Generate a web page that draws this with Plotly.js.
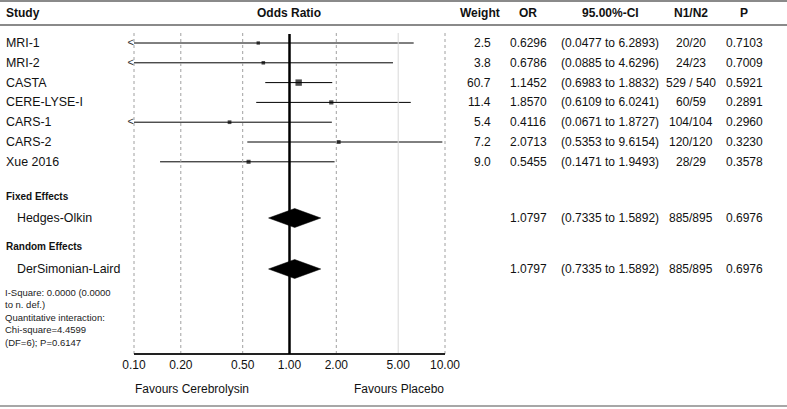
<!DOCTYPE html>
<html>
<head>
<meta charset="utf-8">
<script src="https://cdn.plot.ly/plotly-3.0.1.min.js"></script>
<style>html,body{margin:0;padding:0;background:#fff;}#chart{width:787px;height:409px;}</style>
</head>
<body>
<div id="chart"></div>
<script>
// ---- data ----
const studies = ['MRI-1','MRI-2','CASTA','CERE-LYSE-I','CARS-1','CARS-2','Xue 2016'];
const weights = [2.5,3.8,60.7,11.4,5.4,7.2,9.0];
const orVals  = [0.6296,0.6786,1.1452,1.8570,0.4116,2.0713,0.5455];
const ciLow   = [0.0477,0.0885,0.6983,0.6109,0.0671,0.5353,0.1471];
const ciHigh  = [6.2893,4.6296,1.8832,6.0241,1.8727,9.6154,1.9493];
const n1n2    = ['20/20','24/23','529 / 540','60/59','104/104','120/120','28/29'];
const pVals   = ['0.7103','0.7009','0.5921','0.2891','0.2960','0.3230','0.3578'];

const pooledGroups = ['Fixed Effects','Random Effects'];
const pooledNames  = ['Hedges-Olkin','DerSimonian-Laird'];
const pooledOR     = [1.0797,1.0797];
const pooledLow    = [0.7335,0.7335];
const pooledHigh   = [1.5892,1.5892];
const pooledN      = ['885/895','885/895'];
const pooledP      = ['0.6976','0.6976'];

const tickVals = [0.1,0.2,0.5,1,2,5,10];
const tickText = ['0.10','0.20','0.50','1.00','2.00','5.00','10.00'];
const headers  = ['Study','Odds Ratio','Weight','OR','95.00%-CI','N1/N2','P'];
const statsLines = ['I-Square: 0.0000 (0.0000','to n. def.)','Quantitative interaction:','Chi-square=4.4599','(DF=6); P=0.6147'];
const favours = ['Favours Cerebrolysin','Favours Placebo'];

// ---- layout helpers ----
const W = 787, H = 409;
const FONT = '"Liberation Sans", Arial, sans-serif';
const TXT = '#111';
const rowY = i => 43 + i * 19.8;
const groupY = [196, 247];
const pooledY = [218, 269];
const axisY = 354, gridTop = 33;
const xMin = 0.1, xMax = 10;
const px = v => v / W;
const py = v => 1 - v / H;

const col = {weight: 493, or: 528, ci: 610, n: 691, p: 744};

const traces = [];
const annotations = [];
const shapes = [];

function ann(text, x, y, opts) {
  annotations.push(Object.assign({
    text: text, xref: 'paper', yref: 'paper', x: px(x), y: py(y),
    showarrow: false, xanchor: 'center', yanchor: 'middle',
    font: {family: FONT, size: 12, color: TXT}
  }, opts || {}));
}
const labelFont = {family: FONT, size: 12.4, color: TXT};

// header
ann('<b>' + headers[0] + '</b>', 4, 13, {xanchor: 'left'});
ann('<b>' + headers[1] + '</b>', 289, 13);
ann('<b>' + headers[2] + '</b>', 480, 13);
ann('<b>' + headers[3] + '</b>', col.or, 13);
ann('<b>' + headers[4] + '</b>', col.ci, 13);
ann('<b>' + headers[5] + '</b>', col.n, 13);
ann('<b>' + headers[6] + '</b>', col.p, 13);

// horizontal rules
[[1, 2], [25, 2], [406, 1.5]].forEach(([y, w]) => {
  shapes.push({type: 'line', xref: 'paper', yref: 'paper', x0: 0, x1: 1, y0: py(y), y1: py(y),
    line: {color: '#8a8a8a', width: w}});
});

// gridlines
tickVals.forEach(v => {
  if (v === 1) return;
  const solid = (v === 5);
  shapes.push({type: 'line', xref: 'x', yref: 'y', x0: v, x1: v, y0: gridTop, y1: axisY,
    line: {color: solid ? '#d8d8d8' : '#a0a0a0', width: 1, dash: solid ? 'solid' : 'dot'}});
});
// axis line
shapes.push({type: 'line', xref: 'x', yref: 'y', x0: xMin, x1: xMax, y0: axisY, y1: axisY,
  line: {color: '#222', width: 2}});
// line of no effect
shapes.push({type: 'line', xref: 'x', yref: 'y', x0: 1, x1: 1, y0: gridTop + 1, y1: axisY,
  line: {color: '#000', width: 2.5}});

// study rows
studies.forEach((s, i) => {
  const y = rowY(i);
  const lo = Math.max(ciLow[i], xMin), hi = Math.min(ciHigh[i], xMax);
  traces.push({type: 'scatter', mode: 'lines', x: [lo, hi], y: [y, y],
    line: {color: '#000', width: 1}, hoverinfo: 'skip', showlegend: false});
  if (ciLow[i] < xMin) {
    traces.push({type: 'scatter', mode: 'text', x: [xMin], y: [y + 0.5], text: ['<'],
      textposition: 'middle left', textfont: {family: FONT, size: 11, color: '#333'},
      cliponaxis: false, hoverinfo: 'skip', showlegend: false});
  }
  ann(s, 4, y, {xanchor: 'left', font: labelFont});
  ann(weights[i].toFixed(1), col.weight, y, {xanchor: 'right'});
  ann(orVals[i].toFixed(4), col.or, y);
  ann('(' + ciLow[i].toFixed(4) + ' to ' + ciHigh[i].toFixed(4) + ')', col.ci, y);
  ann(n1n2[i], col.n, y);
  ann(pVals[i], col.p, y);
});

// squares sized by weight
const maxW = Math.max(...weights);
traces.push({type: 'scatter', mode: 'markers', x: orVals, y: studies.map((s, i) => rowY(i)),
  marker: {symbol: 'square', color: '#000', size: weights.map(w => 2.6 + 3.8 * Math.sqrt(w / maxW)), line: {width: 0}},
  cliponaxis: false, hoverinfo: 'skip', showlegend: false});

// pooled rows
pooledNames.forEach((n, k) => {
  const y = pooledY[k], h = 9.5;
  traces.push({type: 'scatter', mode: 'lines',
    x: [pooledLow[k], pooledOR[k], pooledHigh[k], pooledOR[k], pooledLow[k]],
    y: [y, y - h, y, y + h, y],
    fill: 'toself', fillcolor: '#000', line: {color: '#000', width: 0.5},
    hoverinfo: 'skip', showlegend: false});
  ann('<b>' + pooledGroups[k] + '</b>', 4, groupY[k], {xanchor: 'left', font: {family: FONT, size: 10, color: TXT}});
  ann(n, 15, y, {xanchor: 'left', font: labelFont});
  ann(pooledOR[k].toFixed(4), col.or, y);
  ann('(' + pooledLow[k].toFixed(4) + ' to ' + pooledHigh[k].toFixed(4) + ')', col.ci, y);
  ann(pooledN[k], col.n, y);
  ann(pooledP[k], col.p, y);
});

// stats text
statsLines.forEach((t, j) => {
  ann(t, 3, 292 + j * 12.5, {xanchor: 'left', font: {family: FONT, size: 9.5, color: '#222'}});
});

// favours
ann(favours[0], 133, 389, {xanchor: 'left'});
ann(favours[1], 352, 389, {xanchor: 'left'});

// axis range so that 0.1 -> 134px and 10 -> 445px, domain padded by 4px
const pad = 4, decadePx = (445 - 134) / 2;
const layout = {
  width: W, height: H,
  margin: {l: 0, r: 0, t: 0, b: 0, pad: 0},
  paper_bgcolor: '#fff', plot_bgcolor: 'rgba(0,0,0,0)',
  showlegend: false,
  xaxis: {
    type: 'log', domain: [px(134 - pad), px(445 + pad)],
    range: [-1 - pad / decadePx, 1 + pad / decadePx],
    tickvals: tickVals, ticktext: tickText, ticks: '', showgrid: false, zeroline: false, showline: false,
    tickfont: {family: FONT, size: 12, color: TXT},
    anchor: 'free', position: py(axisY), fixedrange: true, ticklabelstandoff: 2
  },
  yaxis: {range: [H, 0], domain: [0, 1], visible: false, fixedrange: true},
  shapes: shapes,
  annotations: annotations
};

Plotly.newPlot('chart', traces, layout, {staticPlot: true, displayModeBar: false});
</script>
</body>
</html>
